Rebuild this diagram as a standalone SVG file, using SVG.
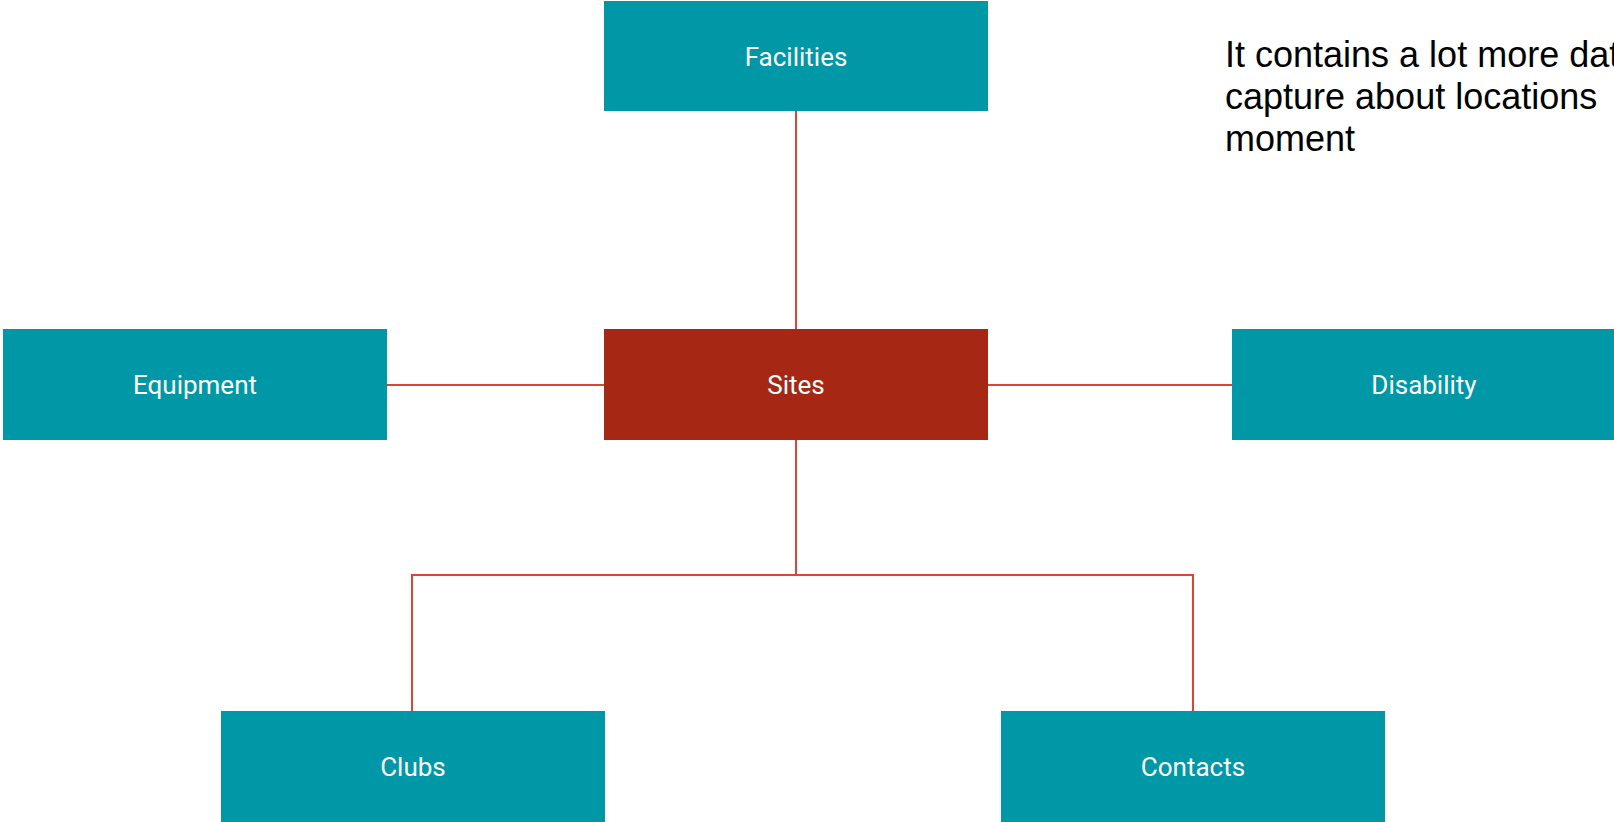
<svg xmlns="http://www.w3.org/2000/svg" width="1614" height="822" viewBox="0 0 1614 822">
<style>
.node{fill:#0097a7}
.center{fill:#a52714}
.lbl{font-family:Roboto,"Liberation Sans",sans-serif;font-size:26px;fill:#ffffff;text-anchor:middle}
.conn{stroke:#db4437;stroke-width:2;fill:none}
.note{font-family:"Liberation Sans",Arial,sans-serif;font-size:36px;fill:#000000}
</style>
<rect width="1614" height="822" fill="#ffffff"/>
<g id="connectors">
<line class="conn" x1="796" y1="111" x2="796" y2="329"/>
<line class="conn" x1="387" y1="385" x2="604" y2="385"/>
<line class="conn" x1="988" y1="385" x2="1232" y2="385"/>
<polyline class="conn" points="796,440 796,575"/>
<polyline class="conn" points="412,711 412,575 1193,575 1193,711"/>
</g>
<g id="facilities"><rect class="node" x="604" y="1" width="384" height="110"/><text class="lbl" x="796" y="66">Facilities</text></g>
<g id="equipment"><rect class="node" x="3" y="329" width="384" height="111"/><text class="lbl" x="195" y="394">Equipment</text></g>
<g id="sites"><rect class="center" x="604" y="329" width="384" height="111"/><text class="lbl" x="796" y="394">Sites</text></g>
<g id="disability"><rect class="node" x="1232" y="329" width="384" height="111"/><text class="lbl" x="1424" y="394">Disability</text></g>
<g id="clubs"><rect class="node" x="221" y="711" width="384" height="111"/><text class="lbl" x="413" y="776">Clubs</text></g>
<g id="contacts"><rect class="node" x="1001" y="711" width="384" height="111"/><text class="lbl" x="1193" y="776">Contacts</text></g>
<g id="note">
<text class="note" x="1225" y="67">It contains a lot more data</text>
<text class="note" x="1225" y="109">capture about locations</text>
<text class="note" x="1225" y="151">moment</text>
</g>
</svg>
